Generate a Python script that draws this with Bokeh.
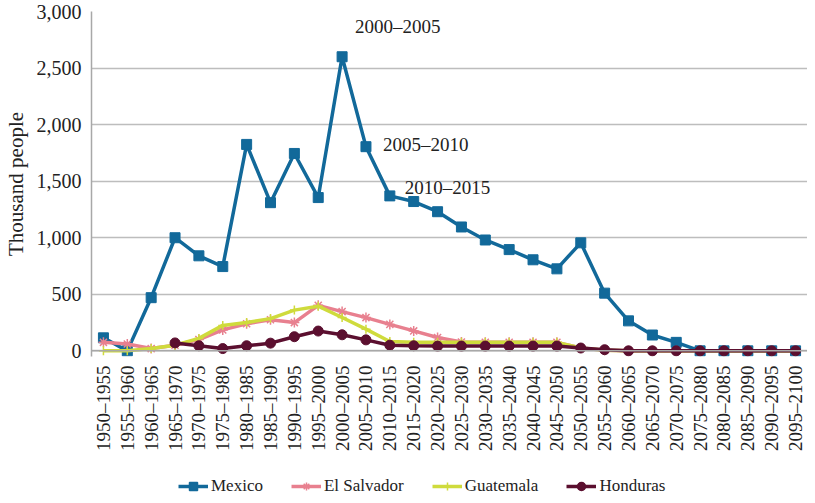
from bokeh.plotting import figure
from bokeh.layouts import column
from bokeh.models import (Range1d, FactorRange, Span, Legend, LegendItem,
                          NumeralTickFormatter, FixedTicker, ColumnDataSource)
from bokeh.core.properties import value
from bokeh.embed import file_html
from bokeh.resources import INLINE
import math

nan = float("nan")

periods = ["1950–1955", "1955–1960", "1960–1965", "1965–1970", "1970–1975",
           "1975–1980", "1980–1985", "1985–1990", "1990–1995", "1995–2000",
           "2000–2005", "2005–2010", "2010–2015", "2015–2020", "2020–2025",
           "2025–2030", "2030–2035", "2035–2040", "2040–2045", "2045–2050",
           "2050–2055", "2055–2060", "2060–2065", "2065–2070", "2070–2075",
           "2075–2080", "2080–2085", "2085–2090", "2090–2095", "2095–2100"]

mexico = [115, 0, 470, 1000, 840, 745, 1825, 1310, 1745, 1355,
          2600, 1805, 1370, 1320, 1230, 1095, 980, 895, 805, 725,
          955, 510, 265, 140, 75, 0, 0, 0, 0, 0]
el_salvador = [75, 60, 20, 50, 100, 185, 240, 275, 250, 402,
               347, 294, 234, 176, 118, 78, 75, 75, 75, 75,
               25, 5, 0, 0, 0, 0, 0, 0, 0, 0]
guatemala = [0, 0, 20, 50, 110, 225, 250, 285, 360, 395,
             295, 192, 82, 75, 75, 75, 75, 75, 75, 75,
             25, 5, 0, 0, 0, 0, 0, 0, 0, 0]
honduras = [nan, nan, nan, 70, 45, 20, 45, 68, 125, 175,
            142, 97, 50, 45, 42, 42, 42, 42, 42, 42,
            25, 10, 0, 0, 0, 0, 0, 0, 0, 0]

series_names = ["Mexico", "El Salvador", "Guatemala", "Honduras"]
series_cols = ["mexico", "els", "gua", "hon"]
annot_periods = ["2000–2005", "2005–2010", "2010–2015"]
y_ticks = [0, 500, 1000, 1500, 2000, 2500, 3000]

FONT = "Liberation Serif"
colors = ["#12699a", "#e8808f", "#cfdb3c", "#5b0f2f"]
markers = ["square", "asterisk", "cross", "circle"]
marker_sizes = [10, 10, 9, 10]

src = ColumnDataSource(dict(x=periods, mexico=mexico, els=el_salvador,
                            gua=guatemala, hon=honduras))

x_range = FactorRange(factors=periods)

p = figure(width=807, height=472, output_backend="svg", toolbar_location=None,
           x_range=x_range, y_range=Range1d(-50, 3000),
           min_border_left=88, min_border_right=0, min_border_top=11,
           min_border_bottom=116)
p.outline_line_color = None
p.background_fill_color = "white"

# axes
p.xaxis.axis_line_color = None
p.xaxis.major_tick_line_color = None
p.xaxis.minor_tick_line_color = None
p.xaxis.major_label_orientation = math.pi / 2
p.xaxis.major_label_text_font = FONT
p.xaxis.major_label_text_font_size = "19px"
p.xaxis.major_label_text_color = "#222222"
p.xaxis.major_label_standoff = 3

p.yaxis.ticker = FixedTicker(ticks=y_ticks)
p.yaxis.formatter = NumeralTickFormatter(format="0,0")
p.yaxis.axis_line_color = "#a8a8a8"
p.yaxis.axis_line_width = 1.5
p.yaxis.major_tick_out = 0
p.yaxis.major_tick_in = 0
p.yaxis.minor_tick_line_color = None
p.yaxis.major_label_text_font = FONT
p.yaxis.major_label_text_font_size = "20px"
p.yaxis.major_label_text_color = "#222222"
p.yaxis.major_label_standoff = 10
p.yaxis.axis_label = "Thousand people"
p.yaxis.axis_label_text_font = FONT
p.yaxis.axis_label_text_font_size = "21px"
p.yaxis.axis_label_text_font_style = "normal"
p.yaxis.axis_label_text_color = "#222222"
p.yaxis.axis_label_standoff = 6

p.xgrid.grid_line_color = None
p.ygrid.grid_line_color = "#bdbdbd"
p.ygrid.grid_line_width = 1.5

p.add_layout(Span(location=0, dimension="width", line_color="#a8a8a8",
                  line_width=1.5))

for col, c, mk, ms in zip(series_cols, colors, markers, marker_sizes):
    p.line("x", col, source=src, line_color=c, line_width=3.5)
    p.scatter("x", col, source=src, marker=mk, size=ms, fill_color=c,
              line_color=c, line_width=1.5 if mk in ("asterisk", "cross") else 1)

# annotations on Mexico peak values
ann_y = [mexico[periods.index(a)] for a in annot_periods]
ann_src = ColumnDataSource(dict(x=annot_periods, y=ann_y, t=annot_periods,
                                xo=[13, 17, 15], yo=[-30, -2, -8]))
p.text(x="x", y="y", text="t", x_offset="xo", y_offset="yo", source=ann_src,
       text_font=value(FONT), text_font_size="19px", text_color="#222222",
       text_baseline="middle", text_align="left")

# legend strip: same series in a small figure whose y-range shows none of
# the data, so only the legend is visible
lg = figure(width=807, height=25, output_backend="svg", toolbar_location=None,
            x_range=x_range, y_range=Range1d(-30, -20),
            min_border_left=88, min_border_right=0,
            min_border_top=0, min_border_bottom=0)
lg.outline_line_color = None
lg.axis.visible = False
lg.grid.visible = False
items = []
for name, col, c, mk in zip(series_names, series_cols, colors, markers):
    ln = lg.line("x", col, source=src, line_color=c, line_width=3.5)
    sc = lg.scatter("x", col, source=src, marker=mk, size=9, fill_color=c,
                    line_color=c, line_width=1.5)
    items.append(LegendItem(label=name, renderers=[ln, sc]))
legend = Legend(items=items, orientation="horizontal", location=(87, 1))
legend.border_line_color = None
legend.background_fill_alpha = 0
legend.label_text_font = FONT
legend.label_text_font_size = "17px"
legend.label_text_color = "#222222"
legend.glyph_width = 30
legend.glyph_height = 20
legend.label_standoff = 3
legend.spacing = 28
legend.padding = 0
legend.margin = 0
lg.add_layout(legend, "center")

layout = column(p, lg, spacing=0)
open("out.html", "w").write(file_html(layout, INLINE))
